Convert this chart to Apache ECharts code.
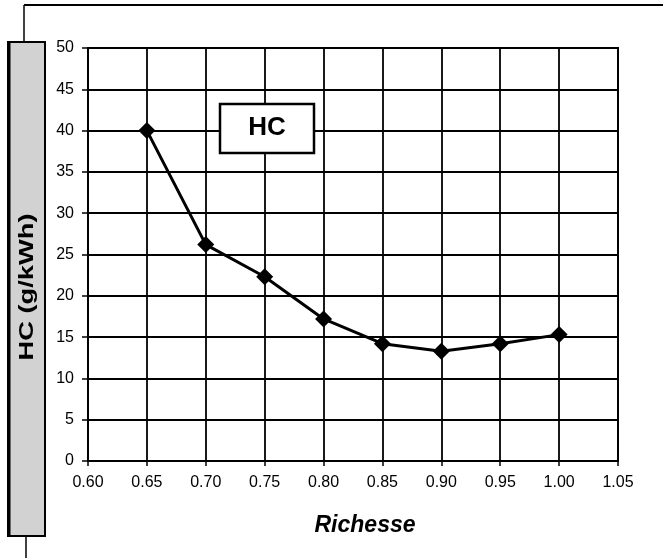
<!DOCTYPE html>
<html>
<head>
<meta charset="utf-8">
<script src="https://cdn.jsdelivr.net/npm/echarts@6/dist/echarts.min.js"></script>
<style>
html,body{margin:0;padding:0;background:#fff;}
#c{width:663px;height:558px;}
</style>
</head>
<body>
<div id="c"></div>
<script>
const richesse = [0.65, 0.70, 0.75, 0.80, 0.85, 0.90, 0.95, 1.00];
const hcValues = [40, 26.2, 22.3, 17.2, 14.2, 13.3, 14.2, 15.3];
const xTitle = 'Richesse';
const yTitle = 'HC (g/kWh)';
const boxLabel = 'HC';

const chart = echarts.init(document.getElementById('c'), null, {renderer: 'canvas'});
const FONT = '"Liberation Sans", Arial, sans-serif';
const data = richesse.map((x, i) => [x, hcValues[i]]);

chart.setOption({
  animation: false,
  backgroundColor: '#fff',
  grid: {left: 88, top: 48, right: 45, bottom: 97, show: true, borderColor: '#000', borderWidth: 2, backgroundColor: 'transparent'},
  xAxis: {
    type: 'value', min: 0.6, max: 1.05, interval: 0.05,
    axisLine: {show: true, onZero: false, lineStyle: {color: '#000', width: 2}},
    axisTick: {show: true, length: 5, lineStyle: {color: '#000', width: 1.5}},
    splitLine: {show: true, lineStyle: {color: '#000', width: 1.8}},
    axisLabel: {color: '#000', fontFamily: FONT, fontSize: 16, margin: 14, formatter: v => v.toFixed(2)}
  },
  yAxis: {
    type: 'value', min: 0, max: 50, interval: 5,
    axisLine: {show: true, lineStyle: {color: '#000', width: 2}},
    axisTick: {show: true, length: 6, lineStyle: {color: '#000', width: 1.5}},
    splitLine: {show: true, lineStyle: {color: '#000', width: 1.8}},
    axisLabel: {color: '#000', fontFamily: FONT, fontSize: 16, margin: 14}
  },
  series: [{
    type: 'line', data: data,
    symbol: 'diamond', symbolSize: 17,
    lineStyle: {color: '#000', width: 3},
    itemStyle: {color: '#000'},
    z: 5
  }],
  graphic: [
    {type: 'line', shape: {x1: 24, y1: 5, x2: 663, y2: 5}, style: {stroke: '#000', lineWidth: 2}},
    {type: 'line', shape: {x1: 24, y1: 5, x2: 24, y2: 42}, style: {stroke: '#000', lineWidth: 1.5}},
    {type: 'line', shape: {x1: 26, y1: 536, x2: 26, y2: 558}, style: {stroke: '#000', lineWidth: 1.5}},
    {type: 'rect', shape: {x: 8, y: 42, width: 37, height: 494}, style: {fill: '#d2d2d2', stroke: '#000', lineWidth: 2}},
    {type: 'line', shape: {x1: 9, y1: 42, x2: 9, y2: 536}, style: {stroke: '#000', lineWidth: 3}},
    {type: 'text', x: 27, y: 287, rotation: Math.PI / 2, scaleX: 1.3,
      style: {text: yTitle, font: 'bold 21px ' + FONT, fill: '#000', align: 'center', verticalAlign: 'middle'}},
    {type: 'rect', shape: {x: 220, y: 104, width: 94, height: 49}, style: {fill: '#fff', stroke: '#000', lineWidth: 2.5}, z: 10},
    {type: 'text', x: 267, y: 128, z: 11,
      style: {text: boxLabel, font: 'bold 26px ' + FONT, fill: '#000', align: 'center', verticalAlign: 'middle'}},
    {type: 'text', x: 365, y: 526,
      style: {text: xTitle, font: 'italic bold 23px ' + FONT, fill: '#000', align: 'center', verticalAlign: 'middle'}}
  ]
});
</script>
</body>
</html>
